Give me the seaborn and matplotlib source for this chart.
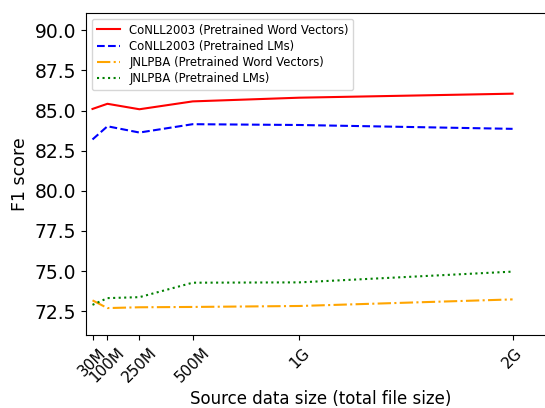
import pandas as pd
import matplotlib
matplotlib.use('Agg')
import matplotlib.pyplot as plt
import seaborn as sns

# source data size in MB
sizes = [30, 100, 250, 500, 1000, 2000]
size_labels = ['30M', '100M', '250M', '500M', '1G', '2G']

conll_wv = [85.10, 85.42, 85.08, 85.57, 85.80, 86.05]
conll_lm = [83.20, 84.02, 83.63, 84.15, 84.10, 83.86]
jnlpba_wv = [73.18, 72.70, 72.75, 72.77, 72.83, 73.24]
jnlpba_lm = [72.90, 73.32, 73.38, 74.28, 74.30, 74.97]

series = [
    ('CoNLL2003 (Pretrained Word Vectors)', conll_wv, 'red', '-'),
    ('CoNLL2003 (Pretrained LMs)', conll_lm, 'blue', '--'),
    ('JNLPBA (Pretrained Word Vectors)', jnlpba_wv, 'orange', '-.'),
    ('JNLPBA (Pretrained LMs)', jnlpba_lm, 'green', ':'),
]

fig = plt.figure(figsize=(5.45, 4.08), dpi=100)
ax = fig.add_axes([0.158, 0.178, 0.86, 0.79])

for name, vals, color, ls in series:
    df = pd.DataFrame({'size': sizes, 'f1': vals})
    sns.lineplot(x='size', y='f1', data=df, color=color, linestyle=ls,
                 linewidth=1.5, label=name, ax=ax)

# the original figure was cropped on the right, so no right spine
ax.spines['right'].set_visible(False)
ax.set_xlim(0, 2198)
ax.set_ylim(71.0, 91.07)
ax.set_xticks(sizes)
ax.set_xticklabels(size_labels, rotation=45, fontsize=11)
ax.set_yticks([72.5, 75.0, 77.5, 80.0, 82.5, 85.0, 87.5, 90.0])
ax.set_yticklabels(['72.5', '75.0', '77.5', '80.0', '82.5', '85.0', '87.5', '90.0'], fontsize=13.5)
ax.set_xlabel('Source data size (total file size)', fontsize=12, labelpad=3)
ax.set_ylabel('F1 score', fontsize=12.5)
ax.legend(loc='upper left', fontsize=8.4, labelspacing=0.28)

fig.savefig('out.png', dpi=100)
